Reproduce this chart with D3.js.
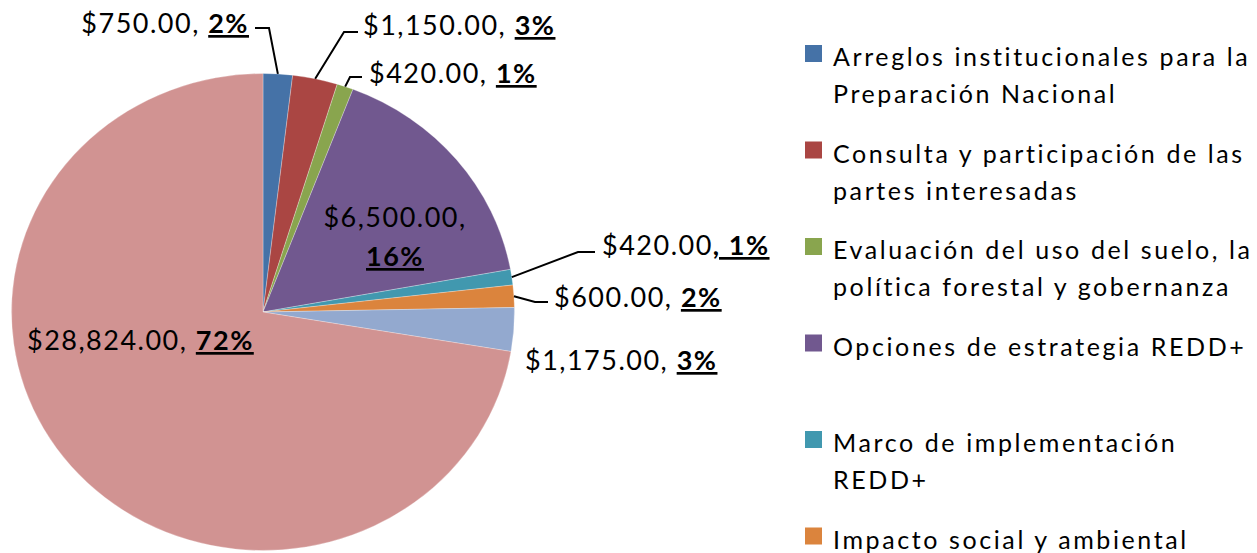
<!DOCTYPE html>
<html>
<head>
<meta charset="utf-8">
<script src="https://cdn.jsdelivr.net/npm/d3@7"></script>
<style>
    body { margin: 0; background: #fff; }
    svg { display: block; }
    .slice-label { font-family: Lato, "Open Sans", sans-serif; font-size: 27px; fill: #000; letter-spacing: 1.5px; }
    .legend-text { font-family: Lato, "Open Sans", sans-serif; font-size: 25px; fill: #000; letter-spacing: 2.6px; }
    .leader { fill: none; stroke: #000; stroke-width: 2; }
</style>
</head>
<body>
<div id="chart"></div>
<script>
// budget per component (USD)
const categories = [
    "Arreglos institucionales para la Preparación Nacional",
    "Consulta y participación de las partes interesadas",
    "Evaluación del uso del suelo, la política forestal y gobernanza",
    "Opciones de estrategia REDD+",
    "Marco de implementación REDD+",
    "Impacto social y ambiental",
    "Desarrollo de un nivel de referencia",
    "Diseño de un sistema de monitoreo"
];
const values = [750, 1150, 420, 6500, 420, 600, 1175, 28824];
const sliceColors = ["#4572A7", "#AA4643", "#89A54E", "#71588F", "#4198AF", "#DB843D", "#93A9CF", "#D19392"];

// where each data label sits (x, baseline, anchor) and the elbow of its leader line
const labelLayout = [
    { x: 249, y: 33, anchor: "end", elbow: [269, 28], lineEnd: 255 },
    { x: 363, y: 35, anchor: "start", elbow: [344, 32], lineEnd: 358 },
    { x: 369, y: 83, anchor: "start", elbow: [350, 77], lineEnd: 362 },
    { x: 395, y: 227, anchor: "middle", twoLines: true },
    { x: 602, y: 255, anchor: "start", elbow: [578, 252], lineEnd: 595, boldSep: true },
    { x: 554, y: 307, anchor: "start", elbow: [535, 302], lineEnd: 548 },
    { x: 525, y: 370, anchor: "start" },
    { x: 27, y: 350, anchor: "start" }
];

const W = 1257, H = 553;
const cx = 263, cy = 312, rx = 251.5, ry = 238.5;

const svg = d3.select("#chart").append("svg")
    .attr("width", W)
    .attr("height", H);

const total = d3.sum(values);
const money = d3.format("$,.2f");
const pct = v => Math.round(v / total * 100) + "%";

const pie = d3.pie().sort(null).value(d => d)(values);

// pie is slightly stretched horizontally in the original, so draw on ry and scale x
const arc = d3.arc().innerRadius(0).outerRadius(ry);

const pieGroup = svg.append("g")
    .attr("transform", "translate(" + cx + "," + cy + ") scale(" + (rx / ry) + ",1)");

pieGroup.selectAll("path")
    .data(pie)
    .enter()
    .append("path")
    .attr("d", arc)
    .attr("fill", (d, i) => sliceColors[i])
    .attr("stroke", "rgba(255,255,255,0.45)")
    .attr("stroke-width", 0.6);

// point on the (elliptic) outline at the middle of a slice
const edgePoint = d => {
    let a = (d.startAngle + d.endAngle) / 2;
    return [cx + rx * Math.sin(a), cy - ry * Math.cos(a)];
};

// leader lines
pie.forEach((d, i) => {
    let L = labelLayout[i];
    if (!L.elbow) return;
    let p = edgePoint(d);
    svg.append("path")
        .attr("class", "leader")
        .attr("d", d3.line()([p, L.elbow, [L.lineEnd, L.elbow[1]]]));
});

// data labels
pie.forEach((d, i) => {
    let L = labelLayout[i];
    let t = svg.append("text")
        .attr("class", "slice-label")
        .attr("x", L.x)
        .attr("y", L.y)
        .attr("text-anchor", L.anchor);

    if (L.twoLines) {
        t.append("tspan").text(money(values[i]) + ",");
        t.append("tspan")
            .attr("x", L.x)
            .attr("dy", 39)
            .attr("font-weight", "bold")
            .attr("text-decoration", "underline")
            .text(pct(values[i]));
    } else if (L.boldSep) {
        t.append("tspan").text(money(values[i]));
        t.append("tspan")
            .attr("font-weight", "bold")
            .attr("text-decoration", "underline")
            .text(", " + pct(values[i]));
    } else {
        t.append("tspan").text(money(values[i]) + ", ");
        t.append("tspan")
            .attr("font-weight", "bold")
            .attr("text-decoration", "underline")
            .text(pct(values[i]));
    }
});

// legend (entries below the frame get cut off, same as the original)
const legendX = 805, legendTop = 66, itemStep = 96.5, lineStep = 37, maxTextW = 424;

const legend = svg.append("g").attr("class", "legend-group");

categories.forEach((name, i) => {
    let y = legendTop + i * itemStep;
    legend.append("rect")
        .attr("x", legendX)
        .attr("y", y - 21)
        .attr("width", 17)
        .attr("height", 17)
        .attr("fill", sliceColors[i]);

    let t = legend.append("text")
        .attr("class", "legend-text")
        .attr("x", legendX + 28)
        .attr("y", y);

    // simple word wrap
    let words = name.split(" ");
    let line = [];
    let tspan = t.append("tspan").attr("x", legendX + 28).attr("dy", 0);
    words.forEach(w => {
        line.push(w);
        tspan.text(line.join(" "));
        if (tspan.node().getComputedTextLength() > maxTextW && line.length > 1) {
            line.pop();
            tspan.text(line.join(" "));
            line = [w];
            tspan = t.append("tspan").attr("x", legendX + 28).attr("dy", lineStep).text(w);
        }
    });
});
</script>
</body>
</html>
